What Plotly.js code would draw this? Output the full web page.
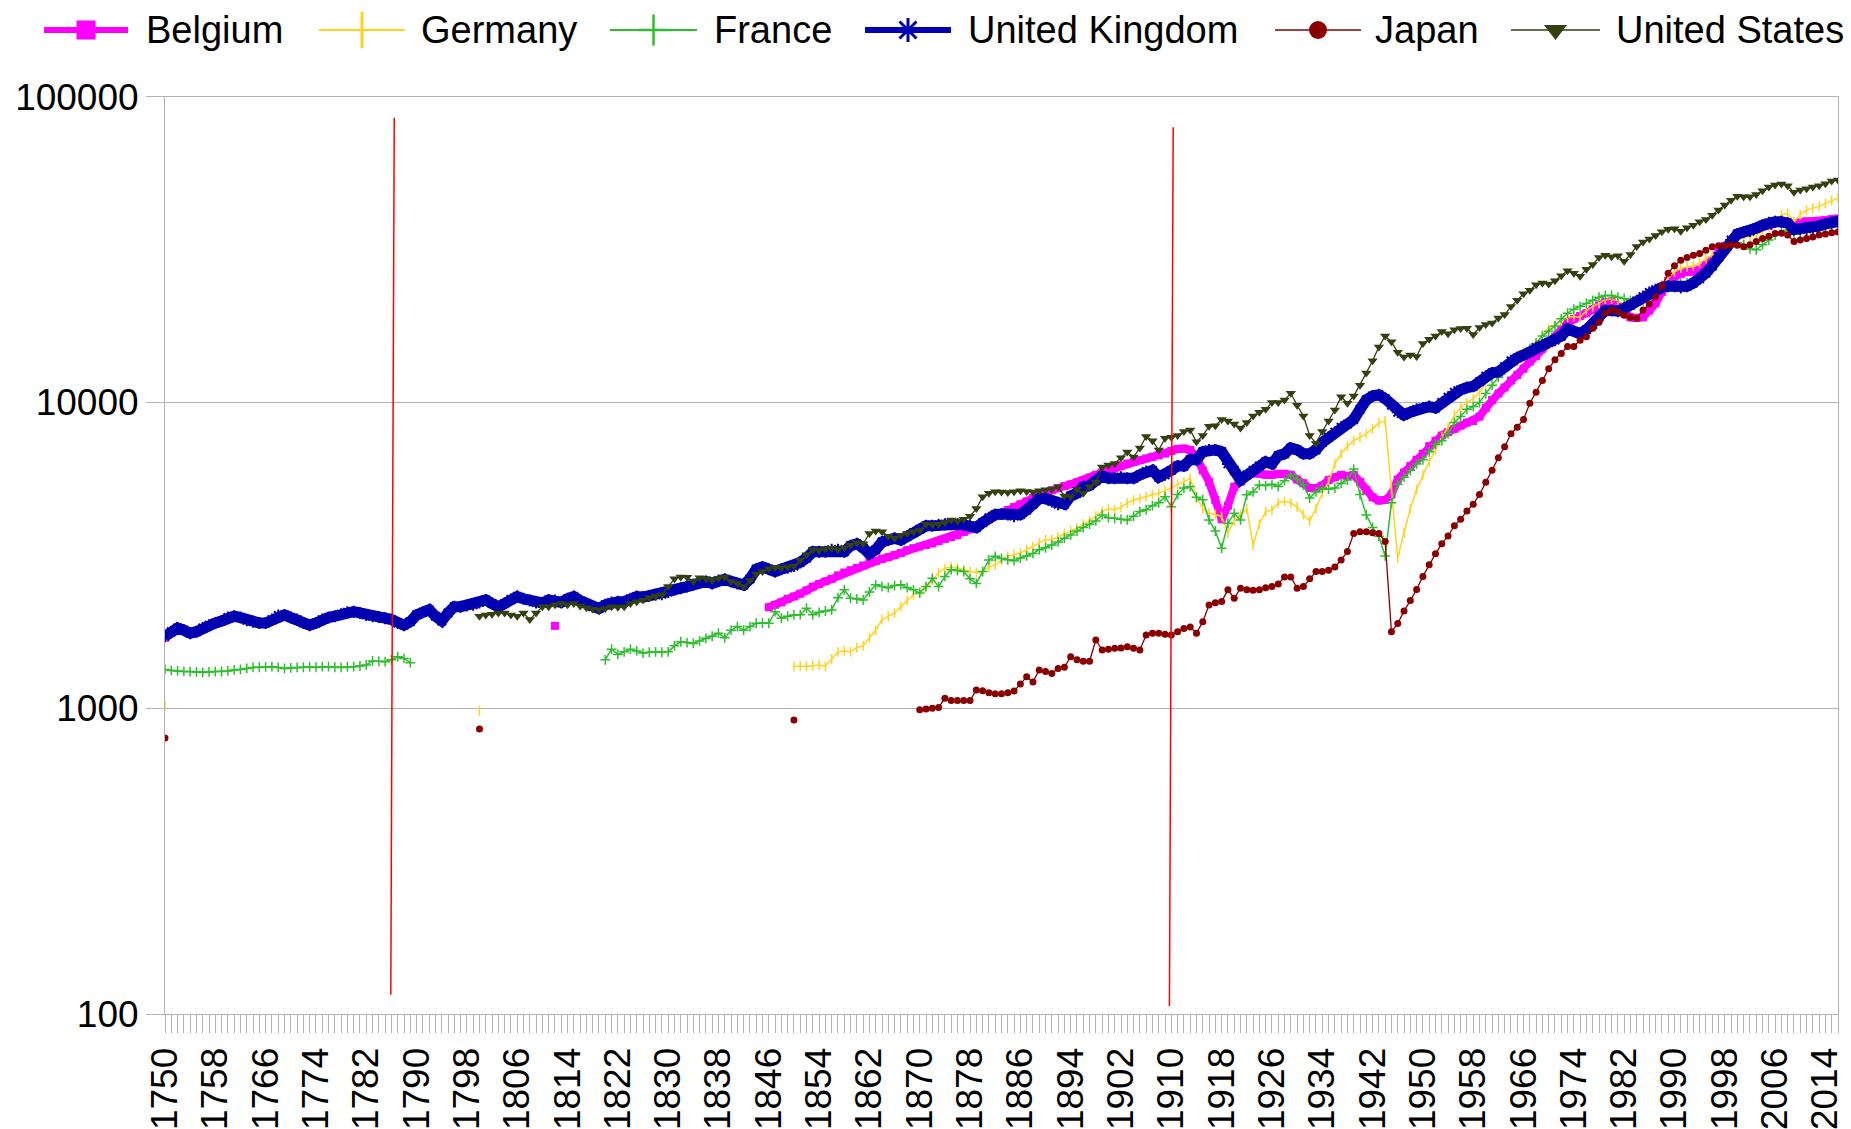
<!DOCTYPE html>
<html>
<head>
<meta charset="utf-8">
<script src="https://cdn.plot.ly/plotly-3.0.1.min.js"></script>
<style>
  html, body { margin: 0; padding: 0; background: #ffffff; }
  #chart { width: 1851px; height: 1129px; }
</style>
</head>
<body>
<div id="chart"></div>
<script>
// ---------------- DATA (GDP per capita) ----------------
const seriesNames = ['Belgium', 'Germany', 'France', 'United Kingdom', 'Japan', 'United States'];

// each series = list of [first year, consecutive yearly values]
const belgiumGdp = [
  [1750, [1700]],
  [1812, [1860]],
  [1846, [2140, 2180, 2220, 2280,
    2320, 2370, 2430, 2500, 2550, 2600, 2650, 2720, 2780, 2830,
    2880, 2930, 2990, 3030, 3080, 3120, 3170, 3220, 3290, 3340,
    3380, 3420, 3460, 3520, 3580, 3630, 3680, 3770, 3850, 3950,
    4050, 4150, 4250, 4350, 4450, 4550, 4650, 4750, 4870, 4980,
    5080, 5170, 5250, 5330, 5400, 5480, 5560, 5680, 5800, 5920,
    6010, 6120, 6220, 6320, 6400, 6480, 6560, 6640, 6720, 6810,
    6950, 7050, 7070, 7000, 6600, 6000, 5500, 4800, 4150, 4600,
    5300, 5500, 5800, 5870, 5850, 5800, 5800, 5850, 5850, 5800,
    5600, 5450, 5250, 5250, 5350, 5580, 5700, 5800, 5750, 5800,
    5500, 5180, 4900, 4780, 4800, 5000, 5600, 5900, 6200, 6500,
    6800, 7200, 7500, 7800, 8000, 8200, 8400, 8600, 8700, 9000,
    9600, 10200, 10700, 11200, 11800, 12300, 12900, 13600, 14200, 15000,
    15800, 16400, 17300, 18200, 18800, 19200, 19600, 20200, 20800, 21300,
    21400, 20600, 19600, 19000, 18900, 19000, 20000, 21100, 23000, 25000,
    25800, 26300, 26800, 26800, 27200, 28200, 29200, 31000, 32500, 33900,
    35300, 36000, 36300, 36800, 37500, 37800, 38600, 39200, 39000, 38300,
    38800, 39200, 39200, 39300, 39500, 39800, 40000]]
];

const germanyGdp = [
  [1750, [1020]],
  [1800, [980]],
  [1850, [1370, 1375, 1370, 1380, 1385, 1370, 1450, 1530, 1540, 1530,
    1580, 1600, 1700, 1800, 1950, 2000, 2050, 2150, 2250, 2350,
    2400, 2480, 2620, 2780, 2870, 2900, 2870, 2830, 2800, 2780,
    2800, 2900, 2940, 3050, 3140, 3180, 3220, 3300, 3380, 3470,
    3560, 3560, 3640, 3730, 3800, 3880, 4000, 4100, 4250, 4400,
    4500, 4450, 4550, 4690, 4800, 4850, 4920, 5000, 5050, 5150,
    5250, 5400, 5500, 5650, 4900, 4500, 4340, 4300, 4240, 3750,
    4100, 4300, 4500, 3420, 4000, 4400, 4450, 4700, 4750, 4700,
    4550, 4300, 4100, 4500, 5050, 5500, 6300, 6800, 7200, 7500,
    7700, 7900, 8200, 8600, 8700, 5200, 3100, 3750, 4500, 5200,
    5800, 6400, 7000, 7700, 8300, 9100, 9600, 10000, 10300, 10800,
    11600, 12200, 12700, 13000, 13500, 14200, 14700, 14800, 15700, 16600,
    17400, 18000, 18500, 19000, 19100, 19000, 20000, 20600, 21100, 21700,
    21800, 21500, 21000, 21300, 22000, 22500, 23000, 23500, 24300, 25500,
    26800, 27500, 27800, 28000, 28600, 29600, 30300, 31000, 32000, 33200,
    34200, 34600, 35000, 35200, 36200, 37500, 39500, 41000, 41600, 39000,
    41200, 42600, 43200, 43800, 44800, 45800, 46600]]
];

const franceGdp = [
  [1750, [1340, 1330, 1325, 1320, 1318, 1315, 1310, 1315, 1318, 1318,
    1325, 1335, 1340, 1350, 1360, 1362, 1365, 1368, 1360, 1350,
    1355, 1360, 1362, 1365, 1362, 1368, 1368, 1362, 1360, 1365,
    1368, 1375, 1386, 1428, 1425, 1420, 1440, 1475, 1455, 1410]],
  [1820, [1440, 1560, 1500, 1530, 1560, 1540, 1515, 1525, 1530, 1525,
    1530, 1600, 1650, 1640, 1630, 1660, 1694, 1720, 1760, 1700,
    1800, 1850, 1800, 1850, 1897, 1900, 1897, 2070, 1970, 2000,
    2020, 2024, 2125, 2024, 2060, 2080, 2097, 2300, 2441, 2290,
    2280, 2260, 2400, 2533, 2500, 2480, 2520, 2533, 2480, 2440,
    2381, 2500, 2660, 2500, 2700, 2840, 2820, 2800, 2650, 2561,
    2800, 3055, 3140, 3090, 3060, 3040, 3100, 3150, 3210, 3300,
    3350, 3420, 3500, 3600, 3690, 3800, 3900, 4000, 4100, 4290,
    4200, 4180, 4150, 4130, 4250, 4400, 4460, 4600, 4700, 4920,
    4560, 5000, 5250, 5310, 4900, 4810, 4130, 3800, 3340, 4030,
    4340, 4130, 4990, 5100, 5370, 5350, 5400, 5310, 5550, 5800,
    5600, 5370, 4870, 5100, 5250, 5200, 5250, 5450, 5580, 6060,
    5000, 4290, 3900, 3650, 3150, 4700, 5400, 5700, 6000, 6300,
    6500, 6900, 7300, 7500, 7900, 8600, 9000, 9500, 9700, 10000,
    10700, 11400, 12100, 12800, 13400, 13700, 14400, 15000, 15600, 16500,
    17100, 17800, 18800, 19600, 20200, 20600, 21100, 21600, 22100, 22400,
    22400, 22100, 21900, 21600, 21300, 21500, 22300, 23000, 23500, 24000,
    24400, 24500, 24600, 24800, 25500, 26300, 27200, 29000, 31000, 32500,
    33300, 32800, 31800, 31600, 32800, 34000, 35300, 36200, 36600, 35500,
    36000, 36500, 36700, 37000, 37300, 37600, 38000]]
];

const ukGdp = [
  [1750, [1720, 1780, 1830, 1800, 1760, 1780, 1830, 1870, 1900, 1930,
    1980, 2000, 1980, 1940, 1920, 1900, 1900, 1950, 2010, 2020,
    1980, 1950, 1900, 1870, 1900, 1950, 1980, 2000, 2030, 2060,
    2070, 2050, 2020, 2000, 1990, 1970, 1950, 1900, 1870, 1920,
    2020, 2060, 2100, 2000, 1930, 2050, 2150, 2150, 2170, 2180,
    2220, 2260, 2200, 2150, 2200, 2270, 2320, 2280, 2250, 2220,
    2210, 2260, 2250, 2220, 2280, 2320, 2250, 2200, 2150, 2120,
    2180, 2220, 2230, 2230, 2280, 2320, 2310, 2330, 2350, 2360,
    2400, 2440, 2470, 2500, 2540, 2570, 2600, 2560, 2620, 2640,
    2600, 2560, 2530, 2650, 2850, 2900, 2850, 2800, 2850, 2880,
    2920, 3000, 3100, 3250, 3250, 3250, 3300, 3300, 3250, 3400,
    3450, 3350, 3200, 3300, 3500, 3550, 3600, 3550, 3650, 3750,
    3850, 3950, 3950, 3980, 4000, 4000, 4000, 3980, 3950, 3900,
    4050, 4200, 4300, 4320, 4300, 4250, 4300, 4450, 4650, 4850,
    4850, 4750, 4650, 4650, 4950, 5050, 5300, 5350, 5550, 5750,
    5650, 5650, 5700, 5650, 5650, 5800, 5950, 6000, 5700, 5800,
    6000, 6200, 6200, 6500, 6500, 6900, 7000, 7000, 6900, 6300,
    6000, 5580, 5800, 6000, 6200, 6400, 6300, 6700, 6800, 7100,
    7000, 6800, 6800, 7000, 7400, 7700, 8000, 8300, 8500, 8800,
    9500, 10200, 10500, 10600, 10300, 9800, 9300, 9100, 9300, 9500,
    9600, 9700, 9600, 10000, 10400, 10800, 11000, 11200, 11300, 11700,
    12200, 12500, 12600, 13100, 13700, 14000, 14300, 14600, 15100, 15400,
    15700, 16000, 16500, 17400, 17100, 16800, 17300, 18000, 19000, 20000,
    20000, 19900, 20300, 20800, 21500, 22200, 22900, 23400, 23800, 24000,
    24000, 23800, 24000, 24600, 25400, 26500, 28000, 30000, 32000, 34000,
    35600, 36100, 36400, 37200, 38000, 38700, 39000, 39000, 38600, 36800,
    36900, 37000, 37300, 37800, 38400, 38800, 39100]]
];

const japanGdp = [
  [1750, [800]],
  [1800, [855]],
  [1850, [915]],
  [1870, [988, 995, 1000, 1006, 1078, 1060, 1060, 1060, 1060, 1148,
    1140, 1125, 1115, 1115, 1125, 1138, 1200, 1269, 1218, 1334,
    1320, 1300, 1350, 1362, 1475, 1440, 1425, 1425, 1672, 1550,
    1560, 1570, 1575, 1590, 1570, 1550, 1737, 1760, 1759, 1745,
    1737, 1780, 1825, 1845, 1760, 1920, 2177, 2215, 2233, 2440,
    2290, 2470, 2440, 2430, 2440, 2480, 2500, 2550, 2690, 2690,
    2470, 2500, 2650, 2800, 2800, 2830, 2900, 3055, 3255, 3730,
    3780, 3780, 3750, 3730, 3510, 1780, 1892, 2080, 2250, 2445,
    2700, 2950, 3200, 3450, 3660, 3950, 4150, 4420, 4650, 5000,
    5490, 6000, 6600, 7170, 7900, 8300, 8800, 9950, 10800, 11800,
    12900, 13800, 14480, 15250, 15250, 16000, 16400, 17500, 18300, 19580,
    20060, 19800, 19300, 19000, 18880, 20060, 21000, 22140, 24000, 26500,
    28000, 29200, 29800, 30300, 30700, 31500, 32300, 32600, 32500, 32800,
    32700, 32300, 32800, 33600, 34400, 35000, 35700, 35800, 35300, 33600,
    34000, 34400, 34800, 35300, 35600, 35900, 36100]]
];

const usGdp = [
  [1800, [2000, 2020, 2030, 2050, 2050, 2020, 2000, 2050, 1950, 2050,
    2150, 2150, 2180, 2200, 2180, 2200, 2160, 2130, 2110, 2100,
    2120, 2150, 2140, 2150, 2200, 2230, 2260, 2300, 2330, 2350,
    2500, 2650, 2690, 2680, 2600, 2670, 2650, 2620, 2660, 2690,
    2600, 2560, 2500, 2620, 2750, 2800, 2860, 2880, 2880, 2900,
    2920, 3050, 3180, 3300, 3280, 3320, 3340, 3300, 3350, 3420,
    3480, 3450, 3730, 3800, 3780, 3650, 3600, 3680, 3730, 3780,
    3830, 4000, 3980, 4000, 4050, 4130, 4100, 4150, 4250, 4500,
    4920, 5050, 5110, 5100, 5080, 5110, 5150, 5120, 5100, 5150,
    5180, 5200, 5300, 4950, 4920, 5200, 5050, 5300, 5500, 6150,
    6250, 6320, 6600, 6890, 6640, 7100, 7740, 7500, 6990, 7640,
    7700, 7800, 8040, 8130, 7440, 7800, 8360, 8400, 8800, 8700,
    8500, 8250, 8600, 9040, 9300, 9500, 10000, 10000, 10200, 10720,
    9800, 9040, 7800, 7350, 8040, 8700, 9450, 10450, 9950, 10500,
    11400, 12500, 13700, 15200, 16500, 15800, 14600, 14100, 14300, 14150,
    15600, 16100, 16500, 17070, 16800, 17300, 17460, 17500, 16700, 17600,
    18000, 18200, 18900, 19400, 20600, 21600, 22700, 23300, 24300, 24600,
    24400, 25000, 26000, 27000, 26500, 25900, 27300, 28300, 29800, 30300,
    30000, 30200, 29000, 30500, 32400, 33500, 34300, 35200, 36200, 36900,
    37000, 36300, 37300, 38000, 39000, 39700, 41000, 42600, 44300, 45900,
    47300, 47100, 47100, 47900, 49300, 50700, 51500, 51900, 51200, 48700,
    49600, 50000, 50700, 51200, 52000, 53000, 53400]]
];

const yTickValues = [100, 1000, 10000, 100000];
const yTickLabels = ['100', '1000', '10000', '100000'];
const firstYear = 1750, lastYear = 2016, labelStep = 8;

// red hand-drawn marker lines (slightly slanted): top and bottom end of each
const redLineTopYear = [1786.45, 1910.3];
const redLineBottomYear = [1785.9, 1909.7];
const redLineTopValue = [85400, 79500];
const redLineBottomValue = [115.6, 106];

// ---------------- STYLE ----------------
const W = 1851, H = 1129;
const plotLeft = 165, plotRight = 1838, plotTop = 96.8, plotBottom = 1014;
const FONT = '"Liberation Sans", Arial, sans-serif';

const styles = [
  {color: '#ff00ff', width: 8,   symbol: 'square',        msize: 8,  mline: 0,   lgWidth: 6,   lgSize: 19, lgLine: 0},
  {color: '#ffd320', width: 1.5, symbol: 'line-ns',       msize: 7,  mline: 1.5, lgWidth: 2,   lgSize: 26, lgLine: 3},
  {color: '#2dbd2d', width: 1.5, symbol: 'cross-thin',    msize: 7,  mline: 1.5, lgWidth: 2,   lgSize: 22, lgLine: 2.5},
  {color: '#0000b0', width: 11,  symbol: 'asterisk',      msize: 10, mline: 2,   lgWidth: 6,   lgSize: 20, lgLine: 3},
  {color: '#8a0000', width: 1.3, symbol: 'circle',        msize: 7,  mline: 0,   lgWidth: 1.5, lgSize: 18, lgLine: 0},
  {color: '#334010', width: 1.3, symbol: 'triangle-down', msize: 9,  mline: 0,   lgWidth: 1.5, lgSize: 20, lgLine: 0}
];

// custom legend positions (pixels across the page)
const legendLineX0 = [44, 319, 610, 865, 1275, 1511];
const legendLineX1 = [128, 405, 697, 951, 1361, 1600];
const legendTextX  = [144, 419, 712, 966, 1373, 1614];

// ---------------- BUILD ----------------
function expand(segments) {
  const x = [], y = [];
  segments.forEach(function (seg, i) {
    if (i > 0) { x.push(null); y.push(null); }
    seg[1].forEach(function (v, k) { x.push(seg[0] + k); y.push(v); });
  });
  return {x: x, y: y};
}

const allData = [belgiumGdp, germanyGdp, franceGdp, ukGdp, japanGdp, usGdp];
const traces = [];
allData.forEach(function (segs, i) {
  const d = expand(segs);
  const s = styles[i];
  traces.push({
    type: 'scatter', mode: 'lines+markers', name: seriesNames[i],
    x: d.x, y: d.y, connectgaps: false,
    line: {color: s.color, width: s.width},
    marker: {symbol: s.symbol, size: s.msize, color: s.color,
             line: {color: s.color, width: s.mline}},
    xaxis: 'x', yaxis: 'y', showlegend: false, hoverinfo: 'skip'
  });
});

// red marker lines, drawn on top of the series
redLineTopYear.forEach(function (yr, i) {
  traces.push({
    type: 'scatter', mode: 'lines',
    x: [yr, redLineBottomYear[i]], y: [redLineTopValue[i], redLineBottomValue[i]],
    line: {color: '#ff0000', width: 1.5},
    xaxis: 'x', yaxis: 'y', showlegend: false, hoverinfo: 'skip', cliponaxis: false
  });
});

// legend glyphs on a page-wide helper axis
const annotations = [];
seriesNames.forEach(function (name, i) {
  const s = styles[i];
  traces.push({
    type: 'scatter', mode: 'lines', x: [legendLineX0[i], legendLineX1[i]], y: [0, 0],
    line: {color: s.color, width: s.lgWidth}, xaxis: 'x2', yaxis: 'y2',
    showlegend: false, hoverinfo: 'skip'
  });
  traces.push({
    type: 'scatter', mode: 'markers', x: [(legendLineX0[i] + legendLineX1[i]) / 2], y: [0],
    marker: {symbol: s.symbol, size: s.lgSize, color: s.color, line: {color: s.color, width: s.lgLine}},
    xaxis: 'x2', yaxis: 'y2', showlegend: false, hoverinfo: 'skip'
  });
  annotations.push({
    xref: 'x2', yref: 'y2', x: legendTextX[i], y: 0, xanchor: 'left', yanchor: 'middle',
    text: name, showarrow: false, font: {family: FONT, size: 38, color: '#000000'}
  });
});

const GRID = '#b3b3b3';
const layout = {
  width: W, height: H,
  margin: {l: 0, r: 0, t: 0, b: 0, pad: 0},
  paper_bgcolor: '#ffffff', plot_bgcolor: '#ffffff',
  showlegend: false,
  font: {family: FONT, color: '#000000'},
  xaxis: {
    domain: [plotLeft / W, plotRight / W],
    range: [firstYear, lastYear],
    tickmode: 'linear', tick0: firstYear, dtick: labelStep,
    ticks: 'outside', ticklen: 18, tickwidth: 1, tickcolor: GRID,
    tickangle: -90, tickfont: {family: FONT, size: 37, color: '#000000'},
    showgrid: false, zeroline: false,
    showline: true, linecolor: GRID, linewidth: 1, mirror: true,
    minor: {tick0: firstYear, dtick: 1, ticks: 'outside', ticklen: 18, tickwidth: 1, tickcolor: GRID, showgrid: false},
    fixedrange: true
  },
  yaxis: {
    domain: [(H - plotBottom) / H, (H - plotTop) / H],
    type: 'log', range: [2, 5],
    tickmode: 'array', tickvals: yTickValues, ticktext: yTickLabels,
    ticks: 'outside', ticklen: 18, tickwidth: 1, tickcolor: GRID,
    tickfont: {family: FONT, size: 37, color: '#000000'},
    showgrid: true, gridcolor: GRID, gridwidth: 1, zeroline: false,
    showline: true, linecolor: GRID, linewidth: 1, mirror: true,
    fixedrange: true
  },
  xaxis2: {domain: [0, 1], range: [0, W], visible: false, anchor: 'y2', fixedrange: true},
  yaxis2: {domain: [1 - 60 / H, 1], range: [-30, 30], visible: false, anchor: 'x2', fixedrange: true},
  annotations: annotations
};

Plotly.newPlot('chart', traces, layout, {displayModeBar: false, staticPlot: true});
</script>
</body>
</html>
